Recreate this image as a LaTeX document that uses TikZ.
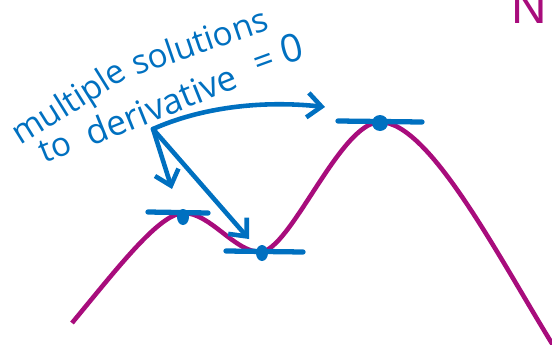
\documentclass[tikz,border=0pt]{standalone}
\usepackage{fontspec}
\setmainfont{Open Sans}
\newfontfamily\titlefont{Liberation Sans}
\usetikzlibrary{arrows.meta}
\definecolor{ink}{HTML}{0070C0}
\definecolor{plum}{HTML}{A80C7C}

\begin{document}
\begin{tikzpicture}[x=0.02cm,y=-0.02cm,
  pen/.style={ink,line width=2.6pt,line cap=round},
  note/.style={text=ink,anchor=base west,inner sep=0pt},
  >={Straight Barb[length=8pt,width=14pt]}]
\useasboundingbox (0,0) rectangle (552,345);
\clip (0,0) rectangle (552,345);
% the function
\coordinate (maxA) at (184,213);
\coordinate (minB) at (260,252);
\coordinate (maxC) at (380,122);
\draw[plum,line width=2.6pt] (72,323) .. controls (120,265) and (160,213) .. (maxA)
  .. controls (210,213) and (235,252) .. (minB)
  .. controls (290,252) and (340,122) .. (maxC)
  .. controls (430,122) and (500,260) .. (556,350);
% flat tangents at the stationary points
\foreach \p/\a/\b in {maxA/148/208,minB/226/303,maxC/338/422}{
  \draw[pen,line width=3pt] (\a,0 |- \p) ++(0,-1) -- (\b,0 |- \p);
}
\fill[ink] (183,217) ellipse (6 and 8);
\fill[ink] (262,253) ellipse (6 and 8);
\fill[ink] (380,123) ellipse (8 and 8);
% handwritten note, word by word
\foreach \w/\x/\y/\r/\s/\name in {multiple/20/146/32/19/wmult,solutions/136/76/19/19/wsol,
    to/44/164/22/19/wto,derivative/91/147/22/20/wder,=/258/76/20/20/weq,0/284/65/15/22/wzero}{
  \node[note,rotate=\r,font=\fontsize{\s}{\s}\selectfont] (\name) at (\x,\y) {\w};
}
\coordinate (src) at (153,129);
\draw[pen,->] (src) .. controls (200,108) and (260,100) .. (325,107);
\draw[pen,->] (src) -- (172,189);
\draw[pen,->] (src) -- (249,239);
\node[text=plum,anchor=base west,inner sep=0pt,font=\titlefont\fontsize{28}{28}\selectfont] (title) at (511,23) {N};
\end{tikzpicture}
\end{document}
